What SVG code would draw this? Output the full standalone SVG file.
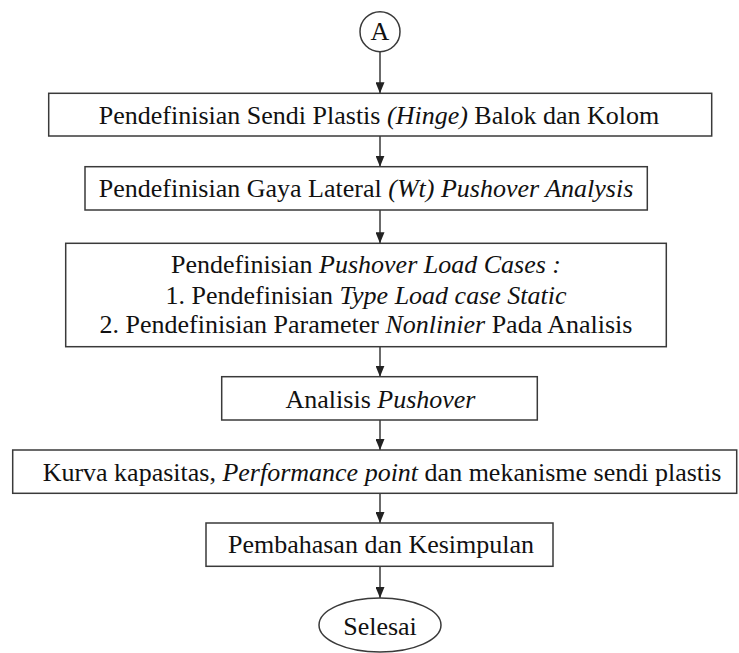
<svg xmlns="http://www.w3.org/2000/svg" width="739" height="653" viewBox="0 0 739 653">
<defs>
<style>
.box{fill:#fff;stroke:#3a3a3a;stroke-width:1.5}
text{font-family:'Liberation Serif','DejaVu Serif',serif;font-size:26px;fill:#111;text-anchor:middle}
.i{font-style:italic}
.c{stroke:#3a3a3a;stroke-width:1.5;fill:none;marker-end:url(#ah)}
</style>
<marker id="ah" viewBox="0 0 11 9" refX="11" refY="4.5" markerWidth="11" markerHeight="9" markerUnits="userSpaceOnUse" orient="auto">
<path d="M0,0 L11,4.5 L0,9 Z" fill="#222"/>
</marker>
</defs>
<rect width="739" height="653" fill="#fff"/>
<g id="connectors">
<line class="c" x1="380" y1="51.7" x2="380" y2="93.3"/>
<line class="c" x1="380" y1="136" x2="380" y2="166.7"/>
<line class="c" x1="380" y1="210" x2="380" y2="243.3"/>
<line class="c" x1="380" y1="346.7" x2="380" y2="376.7"/>
<line class="c" x1="380" y1="420" x2="380" y2="450"/>
<line class="c" x1="380" y1="493.3" x2="380" y2="523"/>
<line class="c" x1="380" y1="566.3" x2="380" y2="598"/>
</g>
<g id="nodeA">
<circle class="box" cx="380" cy="31.7" r="20"/>
<text x="380" y="40" font-size="24">A</text>
</g>
<g id="node1">
<rect class="box" x="48.7" y="93.3" width="663" height="42.7"/>
<text x="379" y="124">Pendefinisian Sendi Plastis <tspan class="i">(Hinge)</tspan> Balok dan Kolom</text>
</g>
<g id="node2">
<rect class="box" x="85" y="166.7" width="562.3" height="43.3"/>
<text x="366" y="196.7">Pendefinisian Gaya Lateral <tspan class="i">(Wt) Pushover Analysis</tspan></text>
</g>
<g id="node3">
<rect class="box" x="65.7" y="243.3" width="600.6" height="103.4"/>
<text x="366" y="273.3">Pendefinisian <tspan class="i">Pushover Load Cases :</tspan></text>
<text x="366" y="303.5">1. Pendefinisian <tspan class="i">Type Load case Static</tspan></text>
<text x="366" y="333">2. Pendefinisian Parameter <tspan class="i">Nonlinier</tspan> Pada Analisis</text>
</g>
<g id="node4">
<rect class="box" x="221.7" y="376.7" width="315.6" height="43.3"/>
<text x="380.5" y="408.3">Analisis <tspan class="i">Pushover</tspan></text>
</g>
<g id="node5">
<rect class="box" x="12.7" y="450" width="724" height="43.3"/>
<text x="382" y="480.7">Kurva kapasitas, <tspan class="i">Performance point</tspan> dan mekanisme sendi plastis</text>
</g>
<g id="node6">
<rect class="box" x="206" y="523" width="347" height="43.3"/>
<text x="381" y="553.3">Pembahasan dan Kesimpulan</text>
</g>
<g id="nodeEnd">
<ellipse class="box" cx="380" cy="625" rx="61" ry="27"/>
<text x="380" y="635">Selesai</text>
</g>
</svg>
